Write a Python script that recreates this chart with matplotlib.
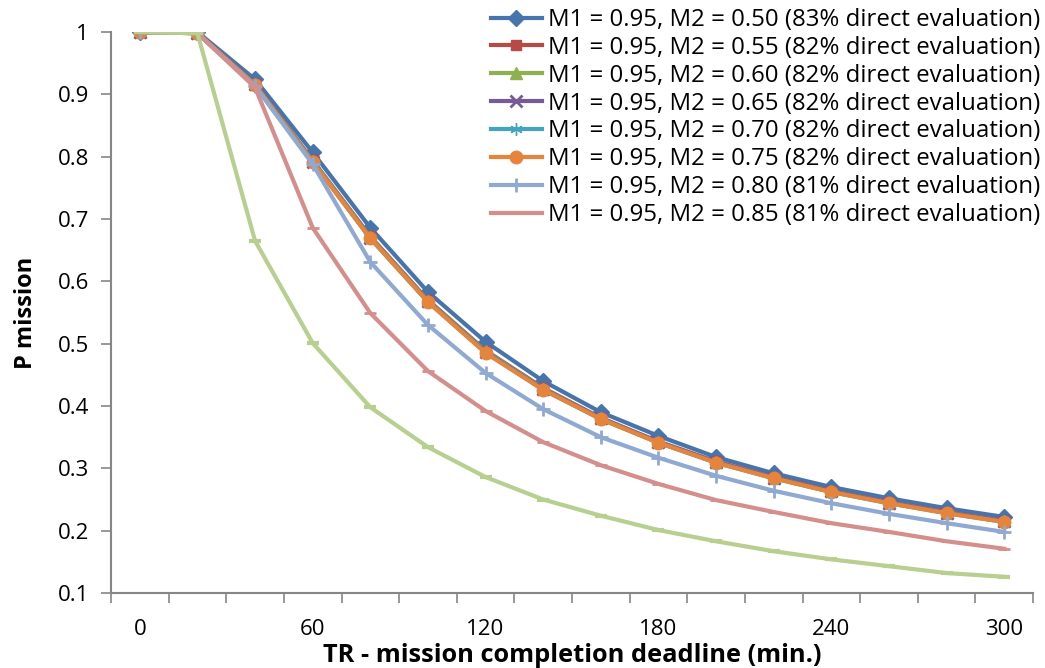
import numpy as np
import matplotlib
matplotlib.use("Agg")
import matplotlib.pyplot as plt

plt.rcParams['font.family'] = ['Open Sans', 'DejaVu Sans']

tr = [0, 20, 40, 60, 80, 100, 120, 140, 160, 180, 200, 220, 240, 260, 280, 300]

m2_050 = [1, 1, 0.924, 0.807, 0.686, 0.583, 0.503, 0.440, 0.390, 0.352, 0.318, 0.292, 0.270, 0.252, 0.236, 0.222]
m2_055 = [1, 0.999, 0.917, 0.794, 0.672, 0.570, 0.489, 0.429, 0.381, 0.343, 0.311, 0.286, 0.264, 0.246, 0.230, 0.216]
m2_060 = [1, 0.999, 0.916, 0.793, 0.671, 0.569, 0.488, 0.428, 0.380, 0.342, 0.310, 0.285, 0.263, 0.245, 0.229, 0.215]
m2_065 = [1, 0.999, 0.916, 0.792, 0.670, 0.568, 0.487, 0.427, 0.380, 0.342, 0.310, 0.285, 0.263, 0.245, 0.229, 0.215]
m2_070 = [1, 0.998, 0.915, 0.792, 0.669, 0.567, 0.486, 0.426, 0.379, 0.341, 0.309, 0.284, 0.262, 0.244, 0.228, 0.214]
m2_075 = [1, 0.998, 0.915, 0.791, 0.669, 0.567, 0.485, 0.426, 0.379, 0.341, 0.309, 0.284, 0.262, 0.244, 0.228, 0.214]
m2_080 = [1, 0.998, 0.913, 0.788, 0.631, 0.530, 0.453, 0.395, 0.350, 0.317, 0.288, 0.264, 0.244, 0.227, 0.212, 0.198]
m2_085 = [1, 0.998, 0.911, 0.686, 0.549, 0.456, 0.392, 0.342, 0.305, 0.275, 0.249, 0.230, 0.212, 0.198, 0.183, 0.171]
extra = [1, 0.998, 0.665, 0.501, 0.398, 0.334, 0.286, 0.250, 0.224, 0.201, 0.183, 0.167, 0.154, 0.143, 0.132, 0.126]

series = [
    (m2_050, "M1 = 0.95, M2 = 0.50 (83% direct evaluation)", '#4674AC', 'D', 8),
    (m2_055, "M1 = 0.95, M2 = 0.55 (82% direct evaluation)", '#B84A46', 's', 7),
    (m2_060, "M1 = 0.95, M2 = 0.60 (82% direct evaluation)", '#8FB04E', '^', 8),
    (m2_065, "M1 = 0.95, M2 = 0.65 (82% direct evaluation)", '#775A9A', 'x', 8),
    (m2_070, "M1 = 0.95, M2 = 0.70 (82% direct evaluation)", '#42A4BE', (6, 2, 0), 9),
    (m2_075, "M1 = 0.95, M2 = 0.75 (82% direct evaluation)", '#E5843A', 'o', 9),
    (m2_080, "M1 = 0.95, M2 = 0.80 (81% direct evaluation)", '#8FA9D3', '+', 10),
    (m2_085, "M1 = 0.95, M2 = 0.85 (81% direct evaluation)", '#D48E8C', '_', 9),
]

fig = plt.figure(figsize=(10.45, 6.68), dpi=100)
ax = fig.add_axes([111 / 1045, 1 - 593 / 668, (1033 - 111) / 1045, (593 - 32) / 668])

x = np.arange(len(tr))
for vals, lab, col, mk, ms in series:
    ax.plot(x, vals, color=col, lw=3, marker=mk, ms=ms, mew=2 if mk in ('x', '+', '_') else 1,
            label=lab, zorder=3)
ax.plot(x, extra, color='#B7CF8F', lw=3, marker='_', ms=9, mew=3, label='_nolegend_', zorder=3)

ax.set_xlim(-0.5, len(tr) - 0.5)
ax.set_ylim(0.1, 1.0)
ax.set_yticks(np.arange(0.1, 1.01, 0.1))
ax.set_yticklabels(['0.1', '0.2', '0.3', '0.4', '0.5', '0.6', '0.7', '0.8', '0.9', '1'])
ax.set_xticks(np.arange(-0.5, len(tr), 1.0))
ax.set_xticklabels([])
ax.set_xticks(x[::3], minor=True)
ax.set_xticklabels([str(tr[i]) for i in x[::3]], minor=True)
ax.tick_params(axis='x', which='minor', length=0, pad=19, labelsize=16)
ax.tick_params(axis='x', which='major', length=7, width=1.2, color='#868686')
ax.tick_params(axis='y', length=7, width=1.2, color='#868686', labelsize=16, pad=9)

for s in ['top', 'right']:
    ax.spines[s].set_visible(False)
for s in ['left', 'bottom']:
    ax.spines[s].set_color('#868686')
    ax.spines[s].set_linewidth(1.5)

ax.set_xlabel("TR - mission completion deadline (min.)", fontsize=18.3, fontweight='bold', labelpad=2)
ax.set_ylabel("P mission", fontsize=17, fontweight='bold', labelpad=14)

leg = ax.legend(loc='upper right', bbox_to_anchor=(1040 / 1045, 1 - 8 / 668), bbox_transform=fig.transFigure,
                frameon=False, fontsize=17.3, handlelength=2.1, handletextpad=0.25, labelspacing=0.16,
                borderaxespad=0, borderpad=0)

fig.savefig("out.png", dpi=100)
